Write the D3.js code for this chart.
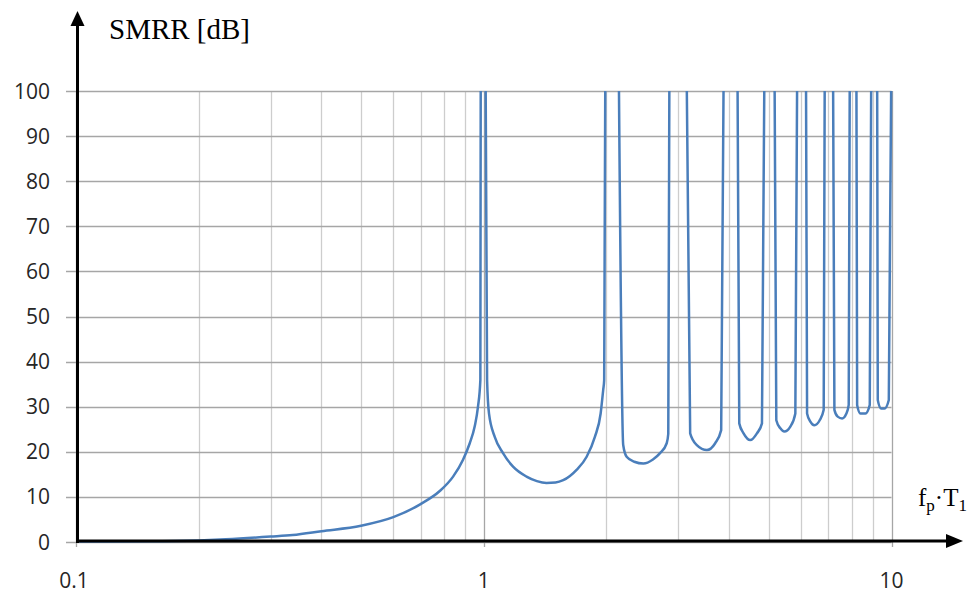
<!DOCTYPE html>
<style>
body {
  margin: 0;
  background: #fff;
}
.ticklabel {
  font-family: 'Open Sans', sans-serif;
  font-size: 21px;
  fill: #262626;
}
.title {
  font-family: 'Liberation Serif', 'Times New Roman', serif;
  fill: #000;
}
</style>
<svg width="974" height="595"></svg>
<script src="https://d3js.org/d3.v7.min.js"></script>
<script>
// values, null = line goes off the top (above 100 dB)
var fpT1 = [
  0.1, 0.15, 0.2, 0.233, 0.3, 0.34, 0.4, 0.5, 0.6, 0.7, 0.78, 0.841, 0.889, 0.924, 0.95, 0.968, 0.981, 0.983, null,
  1.011, 1.019, 1.03, 1.064, 1.115, 1.18, 1.273, 1.35, 1.425, 1.5, 1.566, 1.689, 1.788, 1.873, 1.935, 1.963, 1.974, 1.986, null,
  2.146, 2.198, 2.241, 2.34, 2.463, 2.6, 2.706, 2.81, 2.835, 2.852, null,
  3.148, 3.208, 3.331, 3.526, 3.695, 3.822, 3.873, null,
  4.193, 4.233, 4.337, 4.505, 4.677, 4.812, 4.875, null,
  5.169, 5.218, 5.338, 5.46, 5.648, 5.81, 5.867, null,
  6.172, 6.208, 6.324, 6.469, 6.666, 6.819, 6.857, null,
  7.192, 7.244, 7.381, 7.566, 7.752, 7.854, 7.898, null,
  8.204, 8.236, 8.391, 8.633, 8.845, 8.915, null,
  9.223, 9.254, 9.434, 9.612, 9.849, 9.98
];
var smrr = [
  0.1, 0.15, 0.35, 0.6, 1.2, 1.55, 2.4, 3.6, 5.5, 8.4, 11.3, 14.5, 18.2, 21.9, 25.6, 30, 35.9, 100, null,
  100, 35.9, 28.5, 23.3, 19.7, 16.7, 14.5, 13.5, 13.1, 13.2, 13.7, 16, 18.9, 23.3, 28.5, 33.7, 35.9, 100, null,
  100, 21.5, 18.9, 17.8, 17.4, 18.3, 19.7, 21.9, 24, 100, null,
  100, 24.1, 21.5, 20.4, 21.9, 24.8, 100, null,
  100, 26.3, 24.1, 22.6, 24.1, 26.3, 100, null,
  100, 27.0, 25.2, 24.5, 25.6, 28.5, 100, null,
  100, 28.5, 26.7, 25.9, 27.0, 29.3, 100, null,
  100, 29.3, 27.8, 27.4, 28.5, 30.4, 100, null,
  100, 30.4, 28.5, 28.5, 30.4, 100, null,
  100, 31.5, 29.6, 29.6, 31.5, 100
];
var yTicks = [0, 10, 20, 30, 40, 50, 60, 70, 80, 90, 100];
var xLabels = [0.1, 1, 10];

var svg = d3.select("svg");

var x = d3.scaleLog().domain([0.1, 10]).range([76, 891.5]);
var y = d3.scaleLinear().domain([0, 100]).range([542, 91]);

// vertical gridlines (minor + major)
var xGrid = x.ticks();
svg.append("g").selectAll("line")
  .data(xGrid)
  .enter().append("line")
    .attr("x1", function(d) { return Math.round(x(d)) + 0.5; })
    .attr("x2", function(d) { return Math.round(x(d)) + 0.5; })
    .attr("y1", y(100))
    .attr("y2", function(d) { return xLabels.indexOf(d) >= 0 ? y(0) + 5 : y(0); })
    .attr("stroke", function(d) { return xLabels.indexOf(d) >= 0 ? "#a6a6a6" : "#cdcdcd"; })
    .attr("stroke-width", 1.3);

// horizontal gridlines with tick marks on the left
svg.append("g").selectAll("line")
  .data(yTicks)
  .enter().append("line")
    .attr("x1", 66)
    .attr("x2", x(10))
    .attr("y1", function(d) { return Math.round(y(d)) + 0.5; })
    .attr("y2", function(d) { return Math.round(y(d)) + 0.5; })
    .attr("stroke", "#a6a6a6")
    .attr("stroke-width", 1.3);

// y tick labels
svg.append("g").selectAll("text")
  .data(yTicks)
  .enter().append("text")
    .attr("class", "ticklabel")
    .attr("x", 50)
    .attr("y", function(d) { return y(d); })
    .attr("dy", "0.36em")
    .attr("text-anchor", "end")
    .text(function(d) { return d; });

// x tick labels
svg.append("g").selectAll("text")
  .data(xLabels)
  .enter().append("text")
    .attr("class", "ticklabel")
    .attr("x", function(d) { return x(d) - (d === 0.1 ? 2 : 0); })
    .attr("y", 588)
    .attr("text-anchor", "middle")
    .text(function(d) { return d; });

// the curve
var pts = fpT1.map(function(d, i) { return {x: d, y: smrr[i]}; });
var line = d3.line()
    .defined(function(d) { return d.x != null && d.y != null; })
    .x(function(d) { return x(d.x); })
    .y(function(d) { return y(d.y); })
    .curve(d3.curveMonotoneX);

svg.append("path")
  .datum(pts)
  .attr("fill", "none")
  .attr("stroke", "#4a7ebb")
  .attr("stroke-width", 2.5)
  .attr("stroke-linejoin", "round")
  .attr("d", line);

// black axes with arrow heads
svg.append("line")
  .attr("x1", 77).attr("x2", 948)
  .attr("y1", 541).attr("y2", 541)
  .attr("stroke", "#000").attr("stroke-width", 3);
svg.append("path")
  .attr("d", "M946,534 L963,541 L946,548 Z")
  .attr("fill", "#000");

svg.append("line")
  .attr("x1", 77.5).attr("x2", 77.5)
  .attr("y1", 543).attr("y2", 24)
  .attr("stroke", "#000").attr("stroke-width", 3);
svg.append("path")
  .attr("d", "M70.5,26 L77.5,11 L84.5,26 Z")
  .attr("fill", "#000");

// axis titles
svg.append("text")
  .attr("class", "title")
  .attr("x", 109)
  .attr("y", 39)
  .attr("font-size", 29)
  .text("SMRR [dB]");

var xt = svg.append("text")
  .attr("class", "title")
  .attr("x", 918)
  .attr("y", 506)
  .attr("font-size", 25);
xt.append("tspan").text("f");
xt.append("tspan").attr("font-size", 17).attr("dy", 5).text("p");
xt.append("tspan").attr("dy", -5).text("·T");
xt.append("tspan").attr("font-size", 17).attr("dy", 5).text("1");
</script>
